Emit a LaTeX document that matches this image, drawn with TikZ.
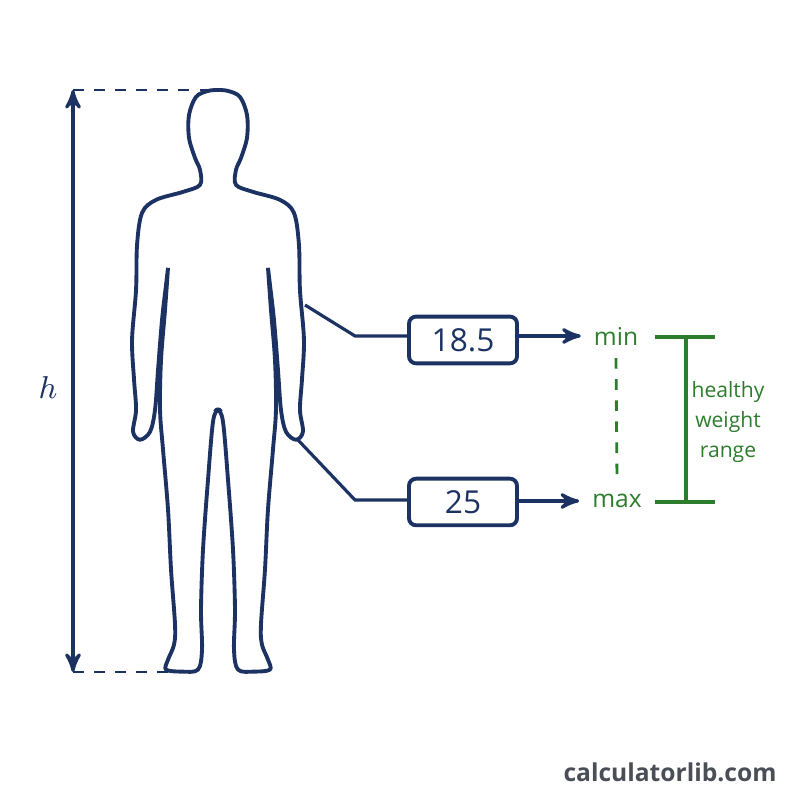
\documentclass[tikz,border=0pt]{standalone}
\usepackage{fontspec}
\setsansfont{Open Sans}
\usetikzlibrary{arrows}
\usetikzlibrary{positioning}
\definecolor{navy}{HTML}{1C3263}
\definecolor{leaf}{HTML}{2E7D2E}
\definecolor{footgray}{HTML}{4A4F57}
\newcommand{\bodyhalf}{plot[smooth,tension=0.55] coordinates {(-1,90) (10,91) (22,97) (29,115) (29,138) (23,158) (18,170) (18,185) (35,192) (62,200) (76,213) (81,245) (82,290) (86,340) (84,380) (82,410) (85,432) (78,440) (68,432) (63,410) (60,370) (56,320) (52,285) (50,268)}
  plot[smooth,tension=0.55] coordinates {(50,268) (53,310) (57,360) (58,410) (55,450) (50,510) (47,570) (43,625) (44,645) (50,660) (52,670) (36,672) (20,670) (16,650) (17,610) (15,550) (10,480) (5,422) (0,410) (-3,412)}}

\begin{document}
\begin{tikzpicture}[>=stealth',thick,
    sil/.style={draw=navy,line width=1.1pt,line join=round},
    valbox/.style={draw=navy,line width=1.1pt,rounded corners=2pt,minimum width=1.08cm,minimum height=0.46cm,font=\sffamily\fontsize{9}{10}\selectfont,text=navy},
    lim/.style={text=leaf,font=\sffamily\fontsize{7}{8}\selectfont},
    guide/.style={draw=navy,line width=0.9pt}]
  \useasboundingbox (0,0) rectangle (8,8);
  % figure
  \begin{scope}[shift={(2.18,8)},x=0.01cm,y=-0.01cm]
    \draw[sil] \bodyhalf;
    \begin{scope}[xscale=-1]
      \draw[sil] \bodyhalf;
    \end{scope}
  \end{scope}
  % height
  \coordinate (htop) at (0.73,7.10);
  \coordinate (hbot) at (0.73,1.28);
  \coordinate (headtop) at (2.10,7.10);
  \coordinate (feet) at (1.85,1.28);
  \draw[guide,dashed,line width=0.7pt] (htop) -- (headtop);
  \draw[guide,dashed,line width=0.7pt] (hbot) -- (feet);
  \draw[guide,<->] (htop) -- (hbot);
  \node[text=navy,font=\fontsize{9}{10}\selectfont] (hlab) at (0.48,4.12) {$h$};
  % values
  \node[valbox] (lo) at (4.63,4.60) {18.5};
  \node[valbox] (hi) at (4.63,2.98) {25};
  \node[lim] (min) at (6.16,4.64) {min};
  \node[lim] (max) at (6.17,2.99) {max};
  \coordinate (waist) at (3.05,4.95);
  \coordinate (hand) at (2.98,3.60);
  \draw[guide] (waist) -- (3.55,4.64) -- (lo.west |- 3.55,4.64);
  \draw[guide] (hand) -- (3.55,3.00) -- (hi.west |- 3.55,3.00);
  \draw[guide,->] (lo.east |- min) -- (min.west);
  \draw[guide,->] (hi.east |- max) -- (max.west);
  \draw[leaf,dashed,line width=0.8pt] (min.south) -- (max.north);
  % range bracket
  \draw[leaf,line width=1pt] (6.55,4.63) -- (7.15,4.63) (6.55,2.98) -- (7.15,2.98) (6.86,4.63) -- (6.86,2.98);
  \node[lim,align=center,font=\sffamily\fontsize{6}{8.5}\selectfont] (range) at (7.28,3.78) {healthy\\weight\\range};
  \node[text=footgray,font=\sffamily\bfseries\fontsize{7}{8}\selectfont] (brand) at (6.70,0.28) {calculatorlib.com};
\end{tikzpicture}
\end{document}
